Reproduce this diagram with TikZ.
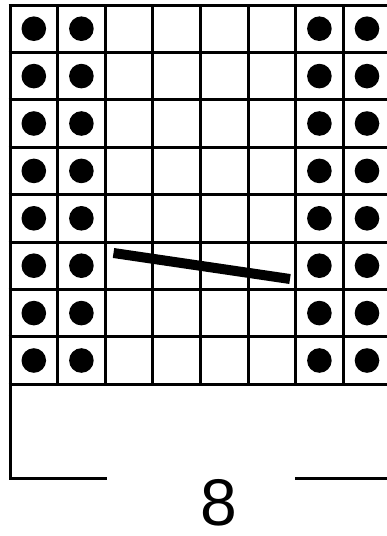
\documentclass[tikz,border=0pt]{standalone}
\usepackage{fontspec}
\setmainfont{Liberation Sans}
\begin{document}
\begin{tikzpicture}[x=1pt,y=-1pt,
  gridline/.style={line width=3pt,black},
  knot/.style={fill=black},
  cable/.style={line width=10pt,black,line cap=butt},
  bracket/.style={line width=3pt,black}]
\useasboundingbox (0,0) rectangle (387,536);
\fill[white] (0,0) rectangle (387,536);
% grid
\foreach \i in {0,...,8} {
  \draw[gridline] ({10+47.6*\i},5) -- ({10+47.6*\i},384.2);
}
\foreach \j in {0,...,8} {
  \draw[gridline] (8.5,{5+47.4*\j}) -- (392.3,{5+47.4*\j});
}
% dots
\foreach \j in {0,...,7} {
  \foreach \i in {0,1,6,7} {
    \fill[knot] ({10+47.6*\i+23.8},{5+47.4*\j+23.7}) circle (12.3);
  }
}
% cable stroke
\coordinate (cs) at (113.5,253);
\coordinate (ce) at (290,279);
\draw[cable] (cs) -- (ce);
% bracket
\coordinate (bt) at (10.7,384.2);
\coordinate (bb) at (10.7,478.5);
\coordinate (bl) at (107,478.5);
\coordinate (rs) at (295,478.5);
\coordinate (re) at (388,478.5);
\draw[bracket] (bt) -- (bb) -- (bl);
\draw[bracket] (rs) -- (re);
\node[anchor=base,inner sep=0pt,font=\fontsize{66}{70}\selectfont] (lab) at (219,525) {8};
\end{tikzpicture}
\end{document}
